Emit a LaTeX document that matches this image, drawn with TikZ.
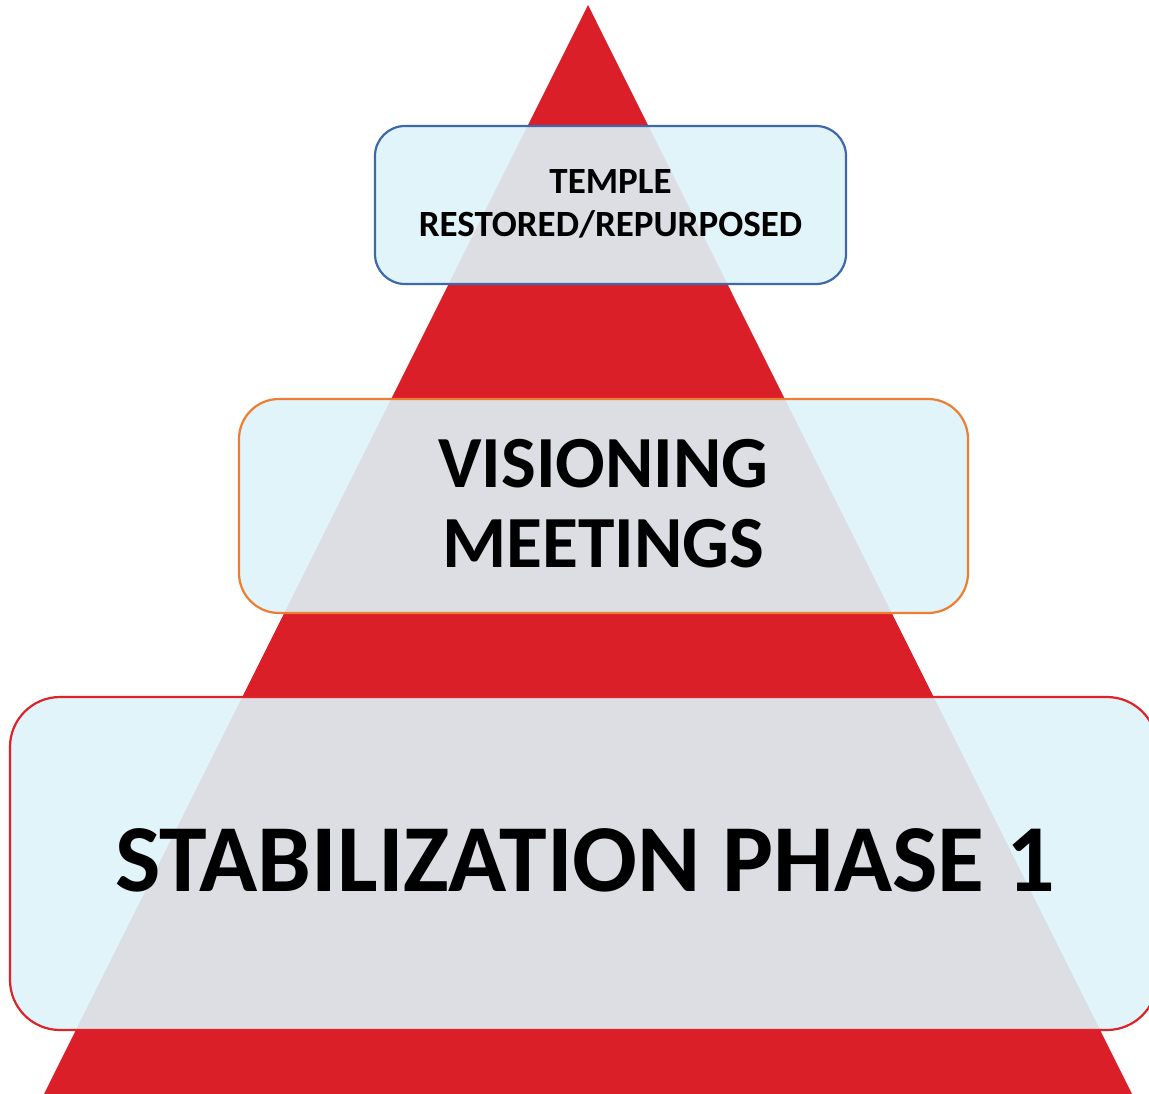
\documentclass[tikz,border=0pt]{standalone}
\usepackage{fontspec}
\setmainfont{Carlito}
\definecolor{pyrred}{RGB}{218,31,40}
\definecolor{boxfill}{RGB}{221,243,248}
\definecolor{blueline}{RGB}{62,104,170}
\definecolor{orangeline}{RGB}{237,125,49}
\definecolor{redline}{RGB}{222,34,42}
\tikzset{
  tier/.style={rectangle, fill=boxfill, fill opacity=0.9, line width=2.2pt, inner sep=0pt},
  tiertext/.style={align=center, font=\bfseries, inner sep=0pt}
}
\begin{document}
\begin{tikzpicture}[x=1pt,y=-1pt]
\useasboundingbox (0,0) rectangle (1149,1094);
\clip (0,0) rectangle (1149,1094);
\fill[pyrred] (588,5) -- (1132,1094) -- (44,1094) -- cycle;
\node[tier, draw=blueline, rounded corners=30pt, minimum width=471pt, minimum height=158pt] (top) at (610.5,205) {};
\node[tier, draw=orangeline, rounded corners=40pt, minimum width=729pt, minimum height=214pt] (mid) at (603.5,506) {};
\node[tier, draw=redline, rounded corners=50pt, minimum width=1147pt, minimum height=333pt] (bot) at (583.5,863.5) {};
\node[tiertext, font=\bfseries\fontsize{37}{43}\selectfont] (toptext) at (610.5,204) {TEMPLE\\RESTORED/REPURPOSED};
\node[tiertext, font=\bfseries\fontsize{73.5}{80}\selectfont] (midtext) at (603.5,504) {VISIONING\\MEETINGS};
\node[tiertext, font=\bfseries\fontsize{96}{100}\selectfont] (bottext) at (585,860.5) {STABILIZATION PHASE 1};
\end{tikzpicture}
\end{document}
